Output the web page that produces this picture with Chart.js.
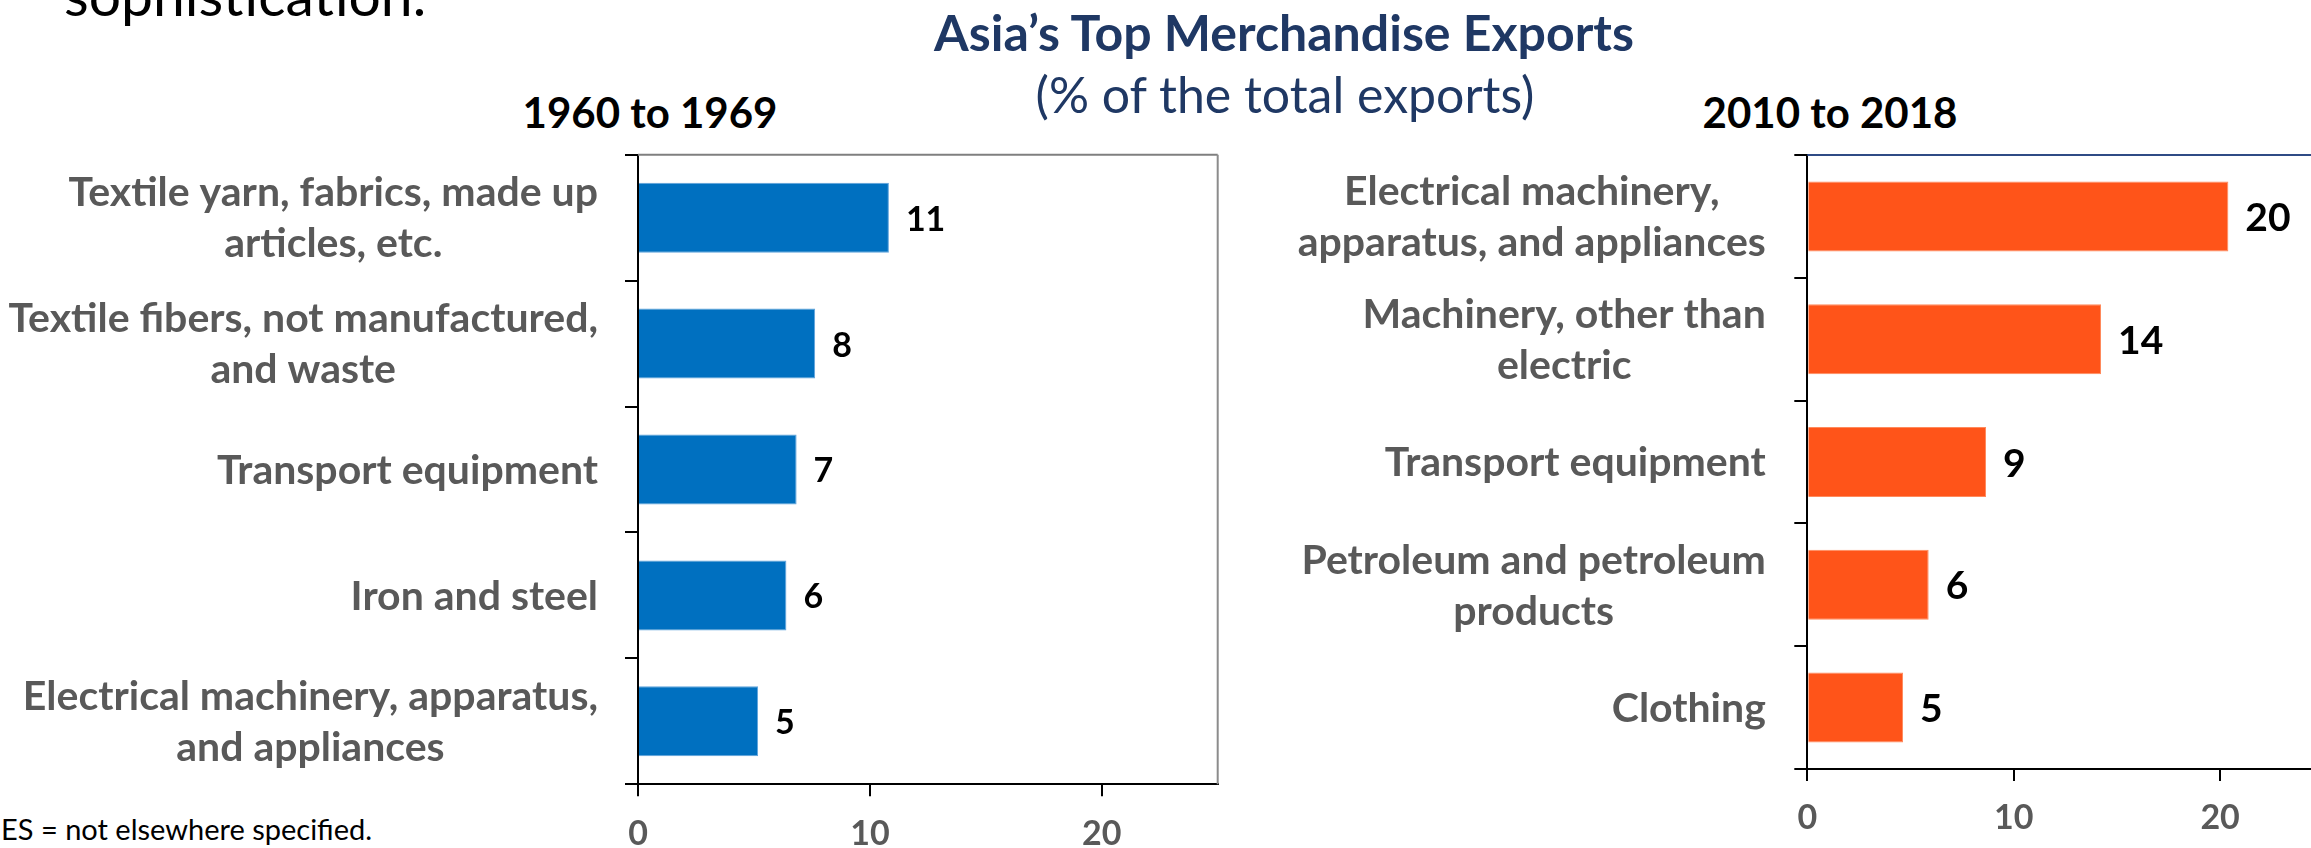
<!DOCTYPE html>
<html>
<head>
<meta charset="utf-8">
<script src="https://cdn.jsdelivr.net/npm/chart.js@4.4.1/dist/chart.umd.min.js"></script>
<style>
  html, body { margin: 0; padding: 0; background: #fff; overflow: hidden; }
  #page { position: relative; width: 2311px; height: 848px; overflow: hidden; font-family: Lato, sans-serif; }
  .txt { position: absolute; white-space: nowrap; line-height: 1; }
  .center { transform: translateX(-50%); }
  canvas { position: absolute; top: 140px; }
</style>
</head>
<body>
<div id="page">
  <div class="txt" style="left:64px; top:-34px; font-size:57px; color:#000;">sophistication.</div>
  <div class="txt center" style="left:1284px; top:7px; font-size:50px; font-weight:bold; color:#1F3864;">Asia’s Top Merchandise Exports</div>
  <div class="txt center" style="left:1285px; top:69px; font-size:50px; color:#1F3864;">(% of the total exports)</div>
  <div class="txt center" style="left:650px; top:91px; font-size:42px; font-weight:bold; color:#000;">1960 to 1969</div>
  <div class="txt center" style="left:1830px; top:91px; font-size:42px; font-weight:bold; color:#000;">2010 to 2018</div>
  <div class="txt" style="left:1px; top:814px; font-size:29px; color:#000;">ES = not elsewhere specified.</div>
  <canvas id="chart-early" width="1240" height="708" style="left:0px;"></canvas>
  <canvas id="chart-recent" width="1100" height="708" style="left:1240px;"></canvas>
</div>

<script>
// 1960 to 1969
const earlyCategories = [
    ['Textile yarn, fabrics, made up', 'articles, etc.'],
    ['Textile fibers, not manufactured,', 'and waste'],
    'Transport equipment',
    'Iron and steel',
    ['Electrical machinery, apparatus,', 'and appliances']
];
const earlyShares = [10.82, 7.64, 6.84, 6.40, 5.18];

// 2010 to 2018
const recentCategories = [
    ['Electrical machinery,', 'apparatus, and appliances'],
    ['Machinery, other than', 'electric'],
    'Transport equipment',
    ['Petroleum and petroleum', 'products'],
    'Clothing'
];
const recentShares = [20.4, 14.23, 8.66, 5.88, 4.64];

// x axis (% of total exports)
const shareTicks = [0, 10, 20];
const shareMax = 25;

Chart.defaults.font.family = 'Lato';

// Category labels: right aligned as a block, lines centred inside it
const categoryLabels = {
    id: 'categoryLabels',
    afterDraw(chart, args, opts) {
        const { ctx } = chart;
        const yScale = chart.scales.y;
        ctx.save();
        ctx.font = `bold ${opts.size}px Lato`;
        ctx.fillStyle = '#595959';
        ctx.textAlign = 'center';
        ctx.textBaseline = 'middle';
        chart.data.labels.forEach((label, i) => {
            const lines = Array.isArray(label) ? label : [label];
            const widest = Math.max(...lines.map(l => ctx.measureText(l).width));
            const cx = yScale.right - opts.gap - widest / 2;
            const yMid = yScale.getPixelForTick(i) + opts.dy;
            lines.forEach((line, j) => {
                ctx.fillText(line, cx, yMid + (j - (lines.length - 1) / 2) * opts.lineHeight);
            });
        });
        ctx.restore();
    }
};

// Value labels at the end of each bar
const valueLabels = {
    id: 'valueLabels',
    afterDatasetsDraw(chart, args, opts) {
        const { ctx } = chart;
        const meta = chart.getDatasetMeta(0);
        const values = chart.data.datasets[0].data;
        ctx.save();
        ctx.font = `bold ${opts.size}px Lato`;
        ctx.fillStyle = '#000';
        ctx.textAlign = 'left';
        ctx.textBaseline = 'middle';
        meta.data.forEach((bar, i) => {
            ctx.fillText(String(Math.round(values[i])), bar.x + opts.gap, bar.y + opts.dy);
        });
        ctx.restore();
    }
};

// Thin top / right frame of the plot area
const plotFrame = {
    id: 'plotFrame',
    beforeDatasetsDraw(chart, args, opts) {
        const { ctx, chartArea: a } = chart;
        ctx.save();
        ctx.lineWidth = 2;
        ctx.strokeStyle = opts.topColor;
        ctx.beginPath();
        ctx.moveTo(a.left, a.top);
        ctx.lineTo(a.right, a.top);
        ctx.stroke();
        ctx.strokeStyle = opts.rightColor;
        ctx.beginPath();
        ctx.moveTo(a.right, a.top);
        ctx.lineTo(a.right, a.bottom);
        ctx.stroke();
        ctx.restore();
    }
};

function buildChart(canvasId, labels, values, cfg) {
    const ctx = document.getElementById(canvasId).getContext('2d');
    return new Chart(ctx, {
        type: 'bar',
        data: {
            labels: labels,
            datasets: [{
                data: values,
                backgroundColor: cfg.color,
                borderColor: cfg.edge,
                borderWidth: 1,
                barPercentage: cfg.barPct,
                categoryPercentage: 1
            }]
        },
        options: {
            indexAxis: 'y',
            responsive: false,
            animation: false,
            layout: { padding: { top: cfg.padTop, right: cfg.padRight, left: 0, bottom: 0 } },
            plugins: {
                legend: { display: false },
                tooltip: { enabled: false },
                categoryLabels: { size: 41, gap: cfg.labelGap, lineHeight: 51, dy: 1 },
                valueLabels: { size: cfg.valueSize, gap: 17, dy: 2 },
                plotFrame: { topColor: cfg.topColor, rightColor: cfg.rightColor }
            },
            scales: {
                y: {
                    type: 'category',
                    offset: true,
                    grid: {
                        offset: true,
                        drawOnChartArea: false,
                        tickLength: 13,
                        tickColor: '#000',
                        lineWidth: 2
                    },
                    border: { color: '#000', width: 2 },
                    ticks: { display: false },
                    afterFit: s => { s.width = cfg.axisWidth; }
                },
                x: {
                    min: 0,
                    max: shareMax,
                    grid: {
                        drawOnChartArea: false,
                        tickLength: 12,
                        tickColor: '#000',
                        lineWidth: 2
                    },
                    border: { color: '#000', width: 2 },
                    ticks: {
                        padding: 17,
                        color: '#595959',
                        font: { size: 34, weight: 'bold' }
                    },
                    afterBuildTicks: s => { s.ticks = shareTicks.map(v => ({ value: v })); },
                    afterFit: s => { s.height = cfg.axisHeight; }
                }
            }
        },
        plugins: [categoryLabels, valueLabels, plotFrame]
    });
}

buildChart('chart-early', earlyCategories, earlyShares, {
    color: '#0070C0',
    edge: '#5FA3DC',
    barPct: 0.556,
    axisWidth: 638,
    axisHeight: 63.7,
    padTop: 14.7,
    padRight: 22.3,
    labelGap: 40,
    valueSize: 34,
    topColor: '#7F7F7F',
    rightColor: '#8C8C8C'
});

buildChart('chart-recent', recentCategories, recentShares, {
    color: '#FF5419',
    edge: '#FF8A5C',
    barPct: 0.57,
    axisWidth: 567.3,
    axisHeight: 79,
    padTop: 15,
    padRight: 16.7,
    labelGap: 41.5,
    valueSize: 39,
    topColor: '#2F4B85',
    rightColor: '#8C8C8C'
});
</script>
</body>
</html>
